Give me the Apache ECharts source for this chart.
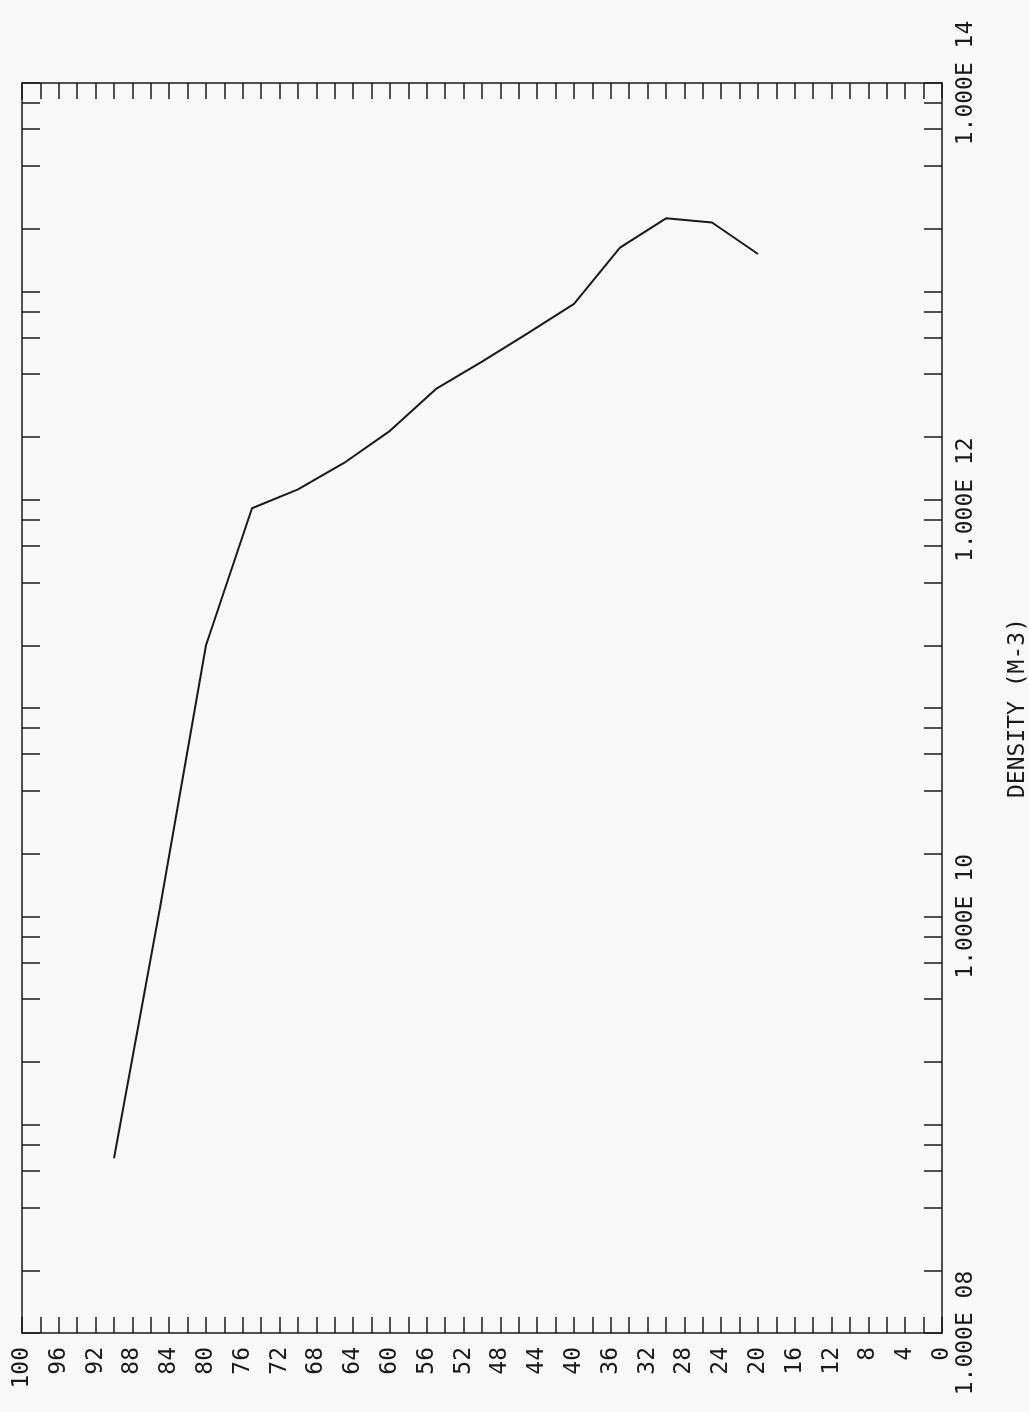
<!DOCTYPE html>
<html>
<head>
<meta charset="utf-8">
<script src="https://cdn.jsdelivr.net/npm/echarts@6/dist/echarts.min.js"></script>
<style>
html,body{margin:0;padding:0;background:#f8f8f8;}
#chart{width:1029px;height:1412px;}
</style>
</head>
<body>
<div id="chart"></div>
<script>
// Altitude (km) and density (m^-3)
const altitudes = [90, 85, 80, 75, 70, 65, 60, 55, 50, 45, 40, 35, 30, 25, 20];
const densities = [6.9e8, 1.1e10, 2.0e11, 9.1e11, 1.12e12, 1.5e12, 2.14e12, 3.4e12, 4.6e12, 6.3e12, 8.7e12, 1.62e13, 2.24e13, 2.14e13, 1.51e13];
const altitudeLabelStep = 4;
const densityLabelDecades = [8, 10, 12, 14];
const densityTickMantissas = [1, 2, 4, 6, 8];
const densityAxisName = 'DENSITY (M-3)';

const densityTicks = [];
for (let d = 8; d <= 14; d++) {
  densityTickMantissas.forEach(m => {
    const v = d + Math.log10(m);
    if (v <= 14.0001) densityTicks.push(v);
  });
}
const seriesData = altitudes.map((a, i) => [a, Math.log10(densities[i])]);

const font = 'DejaVu Sans Mono';
const ink = '#1a1a1a';
const fs = 23;

const xCommon = {
  type: 'value', min: 0, max: 100, interval: 2, inverse: true,
  axisLine: {show: true, onZero: false, lineStyle: {color: ink, width: 1.5}},
  splitLine: {show: false},
};
const yCommon = {
  type: 'value', min: 8, max: 14,
  axisLine: {show: true, onZero: false, lineStyle: {color: ink, width: 1.5}},
  splitLine: {show: false},
};

const chart = echarts.init(document.getElementById('chart'), null, {renderer: 'canvas'});
chart.setOption({
  backgroundColor: '#f8f8f8',
  animation: false,
  grid: {left: 22, right: 87, top: 83, bottom: 79, outerBoundsMode: 'none'},
  xAxis: [
    Object.assign({}, xCommon, {
      position: 'bottom',
      axisTick: {show: true, inside: true, length: 16, lineStyle: {color: ink, width: 1.5}},
      axisLabel: {
        show: true, rotate: 90, margin: 14, color: ink,
        fontFamily: font, fontSize: fs,
        formatter: v => (v % altitudeLabelStep === 0 ? String(v) : '')
      }
    }),
    Object.assign({}, xCommon, {
      position: 'top',
      axisTick: {show: true, inside: true, length: 16, lineStyle: {color: ink, width: 1.5}},
      axisLabel: {show: false}
    })
  ],
  yAxis: [
    Object.assign({}, yCommon, {
      position: 'right',
      axisTick: {show: true, inside: true, length: 18, customValues: densityTicks, lineStyle: {color: ink, width: 1.5}},
      axisLabel: {
        show: true, rotate: 90, margin: 13, color: ink,
        fontFamily: font, fontSize: fs,
        customValues: densityLabelDecades,
        formatter: v => '1.000E ' + String(Math.round(v)).padStart(2, '0')
      },
      name: densityAxisName,
      nameLocation: 'middle',
      nameRotate: 90,
      nameGap: 65,
      nameTextStyle: {color: ink, fontFamily: font, fontSize: fs}
    }),
    Object.assign({}, yCommon, {
      position: 'left',
      axisTick: {show: true, inside: true, length: 18, customValues: densityTicks, lineStyle: {color: ink, width: 1.5}},
      axisLabel: {show: false}
    })
  ],
  series: [{
    type: 'line',
    xAxisIndex: 0, yAxisIndex: 0,
    data: seriesData,
    showSymbol: false,
    symbol: 'none',
    lineStyle: {color: ink, width: 2}
  }]
});
</script>
</body>
</html>
